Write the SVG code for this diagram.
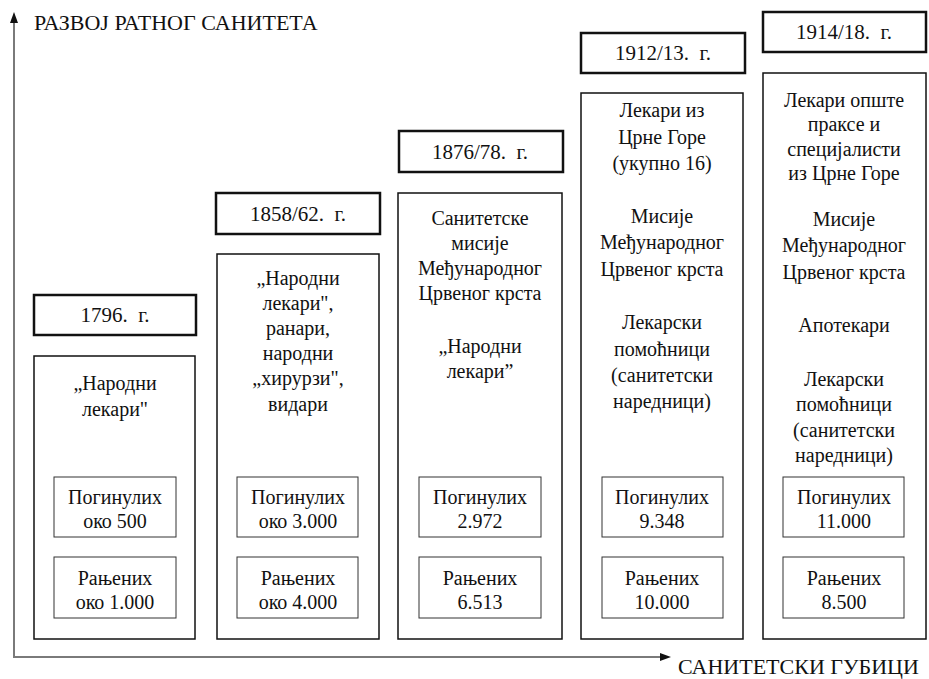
<svg xmlns="http://www.w3.org/2000/svg" width="929" height="679" viewBox="0 0 929 679">
<style>
text{font-family:Liberation Serif,Tinos,Noto Serif,DejaVu Serif,FreeSerif,Times New Roman,Times,serif;fill:#111}
.t{font-size:20px;text-anchor:middle}
.h{font-size:21px;text-anchor:middle}
.ax{font-size:22px}
.hb{fill:#fff;stroke:#111;stroke-width:2.5}
.mb{fill:#fff;stroke:#111;stroke-width:1.5}
.ib{fill:#fff;stroke:#333;stroke-width:1}
.axis{stroke:#7a7a7a;stroke-width:2;fill:none}
</style>
<rect width="929" height="679" fill="#fff"/>
<g id="connectors">
<line class="axis" x1="14" y1="657" x2="14" y2="22"/>
<polygon points="14,12 10,23 18,23" fill="#111"/>
<line class="axis" x1="13" y1="657" x2="661" y2="657"/>
<polygon points="671,657 660,653 660,661" fill="#111"/>
</g>
<g id="axis-labels">
<text class="ax" x="34" y="30">РАЗВОЈ РАТНОГ САНИТЕТА</text>
<text class="ax" x="678" y="674">САНИТЕТСКИ ГУБИЦИ</text>
</g>
<g id="col1">
<rect class="hb" x="34" y="295" width="162" height="40"/>
<text class="h" x="115" y="322" xml:space="preserve">1796.  г.</text>
<rect class="mb" x="34" y="356" width="161" height="283"/>
<text class="t" x="115" y="390">„Народни</text>
<text class="t" x="115" y="416">лекари"</text>
<rect class="ib" x="54" y="477" width="122" height="60"/>
<text class="t" x="115" y="504">Погинулих</text>
<text class="t" x="115" y="528">око 500</text>
<rect class="ib" x="54" y="557" width="122" height="61"/>
<text class="t" x="115" y="585">Рањених</text>
<text class="t" x="115" y="609">око 1.000</text>
</g>
<g id="col2">
<rect class="hb" x="216" y="193" width="164" height="41"/>
<text class="h" x="298" y="221" xml:space="preserve">1858/62.  г.</text>
<rect class="mb" x="217" y="254" width="162" height="385"/>
<text class="t" x="298" y="285">„Народни</text>
<text class="t" x="298" y="310">лекари",</text>
<text class="t" x="298" y="335">ранари,</text>
<text class="t" x="298" y="360">народни</text>
<text class="t" x="298" y="385">„хирурзи",</text>
<text class="t" x="298" y="411">видари</text>
<rect class="ib" x="237" y="477" width="121" height="60"/>
<text class="t" x="298" y="504">Погинулих</text>
<text class="t" x="298" y="528">око 3.000</text>
<rect class="ib" x="237" y="557" width="121" height="61"/>
<text class="t" x="298" y="585">Рањених</text>
<text class="t" x="298" y="609">око 4.000</text>
</g>
<g id="col3">
<rect class="hb" x="399" y="131" width="164" height="41"/>
<text class="h" x="480" y="159" xml:space="preserve">1876/78.  г.</text>
<rect class="mb" x="398" y="193" width="164" height="446"/>
<text class="t" x="480" y="225">Санитетске</text>
<text class="t" x="480" y="250">мисије</text>
<text class="t" x="480" y="275">Међународног</text>
<text class="t" x="480" y="300">Црвеног крста</text>
<text class="t" x="480" y="353">„Народни</text>
<text class="t" x="480" y="378">лекари”</text>
<rect class="ib" x="419" y="477" width="122" height="60"/>
<text class="t" x="480" y="504">Погинулих</text>
<text class="t" x="480" y="528">2.972</text>
<rect class="ib" x="419" y="557" width="122" height="61"/>
<text class="t" x="480" y="585">Рањених</text>
<text class="t" x="480" y="609">6.513</text>
</g>
<g id="col4">
<rect class="hb" x="581" y="33" width="164" height="40"/>
<text class="h" x="663" y="60" xml:space="preserve">1912/13.  г.</text>
<rect class="mb" x="581" y="93" width="162" height="546"/>
<text class="t" x="662" y="117">Лекари из</text>
<text class="t" x="662" y="144">Црне Горе</text>
<text class="t" x="662" y="170">(укупно 16)</text>
<text class="t" x="662" y="223">Мисије</text>
<text class="t" x="662" y="249">Међународног</text>
<text class="t" x="662" y="276">Црвеног крста</text>
<text class="t" x="662" y="329">Лекарски</text>
<text class="t" x="662" y="356">помоћници</text>
<text class="t" x="662" y="382">(санитетски</text>
<text class="t" x="662" y="408">наредници)</text>
<rect class="ib" x="602" y="477" width="121" height="60"/>
<text class="t" x="662" y="504">Погинулих</text>
<text class="t" x="662" y="528">9.348</text>
<rect class="ib" x="602" y="557" width="121" height="61"/>
<text class="t" x="662" y="585">Рањених</text>
<text class="t" x="662" y="609">10.000</text>
</g>
<g id="col5">
<rect class="hb" x="763" y="12" width="163" height="40"/>
<text class="h" x="844" y="39" xml:space="preserve">1914/18.  г.</text>
<rect class="mb" x="763" y="73" width="163" height="566"/>
<text class="t" x="844" y="107">Лекари опште</text>
<text class="t" x="844" y="131">праксе и</text>
<text class="t" x="844" y="156">специјалисти</text>
<text class="t" x="844" y="180">из Црне Горе</text>
<text class="t" x="844" y="226">Мисије</text>
<text class="t" x="844" y="252">Међународног</text>
<text class="t" x="844" y="279">Црвеног крста</text>
<text class="t" x="844" y="332">Апотекари</text>
<text class="t" x="844" y="386">Лекарски</text>
<text class="t" x="844" y="411">помоћници</text>
<text class="t" x="844" y="437">(санитетски</text>
<text class="t" x="844" y="462">наредници)</text>
<rect class="ib" x="783" y="477" width="121" height="60"/>
<text class="t" x="844" y="504">Погинулих</text>
<text class="t" x="844" y="528">11.000</text>
<rect class="ib" x="783" y="557" width="121" height="61"/>
<text class="t" x="844" y="585">Рањених</text>
<text class="t" x="844" y="609">8.500</text>
</g>
</svg>
